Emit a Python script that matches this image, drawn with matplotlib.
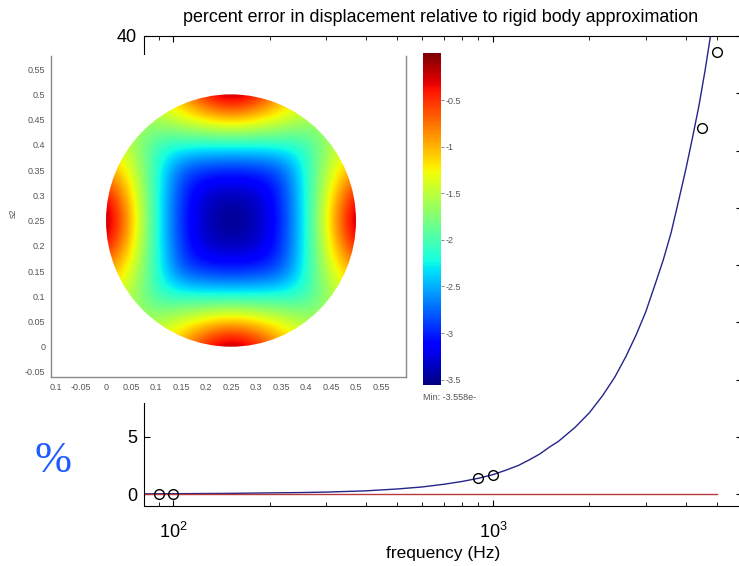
import matplotlib
matplotlib.use("Agg")
import matplotlib.pyplot as plt
import numpy as np
from matplotlib.patches import Circle
from matplotlib.ticker import NullFormatter

plt.rcParams['font.family'] = ['Liberation Sans', 'DejaVu Sans']

# fitted curve
fit_freq = [81, 100, 150, 200, 250, 300, 400, 500, 600, 700, 800, 900, 1000, 1100, 1200,
            1300, 1400, 1500, 1600, 1800, 2000, 2200, 2400, 2600, 2800, 3000, 3200, 3400,
            3600, 3800, 4000, 4200, 4400, 4600, 4800, 5000]
fit_err = [0.02, 0.03, 0.06, 0.1, 0.13, 0.17, 0.28, 0.44, 0.62, 0.85, 1.1, 1.38, 1.7, 2.1, 2.5,
           3.0, 3.5, 4.1, 4.6, 5.8, 7.1, 8.6, 10.2, 12.0, 13.9, 15.9, 18.2, 20.4,
           22.8, 25.6, 28.3, 31.1, 33.9, 37.0, 40.3, 43.5]

# computed points (circles)
pt_freq = [90, 100, 900, 1000, 4500, 5000]
pt_err = [0.0, 0.0, 1.4, 1.7, 32.0, 38.6]

# rigid body reference line
ref_freq = [81, 5000]
ref_err = [0, 0]

# y ticks; labels 10..35 sit under the pasted picture
y_ticks = [0, 5, 10, 15, 20, 25, 30, 35, 40]
y_labels = ['0', '5', '', '', '', '', '', '', '40']

# field on the disk, s1/s2 grid 0..0.5 step 0.05 (rows bottom to top)
s_grid = [0.0, 0.05, 0.1, 0.15, 0.2, 0.25, 0.3, 0.35, 0.4, 0.45, 0.5]
field = [
    [-1.50, -1.40, -1.30, -0.90, -0.30, 0.00, -0.30, -0.90, -1.30, -1.40, -1.50],
    [-1.40, -1.60, -1.57, -1.35, -1.15, -1.00, -1.15, -1.35, -1.57, -1.60, -1.40],
    [-1.30, -1.57, -2.10, -2.15, -2.18, -2.20, -2.18, -2.15, -2.10, -1.57, -1.30],
    [-0.90, -1.35, -2.15, -2.85, -2.97, -3.00, -2.97, -2.85, -2.15, -1.35, -0.90],
    [-0.30, -1.15, -2.18, -2.97, -3.35, -3.40, -3.35, -2.97, -2.18, -1.15, -0.30],
    [0.00, -1.00, -2.20, -3.00, -3.40, -3.56, -3.40, -3.00, -2.20, -1.00, 0.00],
    [-0.30, -1.15, -2.18, -2.97, -3.35, -3.40, -3.35, -2.97, -2.18, -1.15, -0.30],
    [-0.90, -1.35, -2.15, -2.85, -2.97, -3.00, -2.97, -2.85, -2.15, -1.35, -0.90],
    [-1.30, -1.57, -2.10, -2.15, -2.18, -2.20, -2.18, -2.15, -2.10, -1.57, -1.30],
    [-1.40, -1.60, -1.57, -1.35, -1.15, -1.00, -1.15, -1.35, -1.57, -1.60, -1.40],
    [-1.50, -1.40, -1.30, -0.90, -0.30, 0.00, -0.30, -0.90, -1.30, -1.40, -1.50],
]
field_min = -3.558
field_max = 0.0

inset_xticks = [-0.1, -0.05, 0, 0.05, 0.1, 0.15, 0.2, 0.25, 0.3, 0.35, 0.4, 0.45, 0.5, 0.55]
inset_xlabels = ['0.1', '-0.05', '0', '0.05', '0.1', '0.15', '0.2', '0.25', '0.3', '0.35',
                 '0.4', '0.45', '0.5', '0.55']
inset_yticks = [-0.05, 0, 0.05, 0.1, 0.15, 0.2, 0.25, 0.3, 0.35, 0.4, 0.45, 0.5, 0.55]
inset_ylabels = ['-0.05', '0', '0.05', '0.1', '0.15', '0.2', '0.25', '0.3', '0.35',
                 '0.4', '0.45', '0.5', '0.55']
cbar_ticks = [-0.5, -1, -1.5, -2, -2.5, -3, -3.5]

W, H = 739, 566
fig = plt.figure(figsize=(W / 100, H / 100), dpi=100)


def box(x0, y0, x1, y1):
    # pixel box (top-left origin) -> figure fraction rect
    return [x0 / W, 1 - y1 / H, (x1 - x0) / W, (y1 - y0) / H]


# ---- main plot
ax = fig.add_axes(box(144, 36, 742, 505.5))
ax.semilogx(fit_freq, fit_err, color='#24248a', lw=1.0)
ax.plot(ref_freq, ref_err, color='#b83a3a', lw=1.0)
ax.plot(pt_freq, pt_err, 'o', mfc='none', mec='black', ms=7, mew=1.0)
ax.set_xlim(81, 6000)
ax.set_ylim(-1, 40)
ax.set_yticks(y_ticks)
ax.set_yticklabels(y_labels)
ax.xaxis.set_minor_formatter(NullFormatter())
ax.tick_params(which='both', direction='in', top=True, right=True, labelsize=13)
ax.tick_params(which='major', length=4.5)
ax.tick_params(which='minor', length=3)
ax.tick_params(axis='x', pad=12)
ax.tick_params(axis='y', pad=5)
ax.set_xlabel('frequency (Hz)', fontsize=12.5, labelpad=3)
for sp in ax.spines.values():
    sp.set_linewidth(0.8)

fig.text(441 / W, 1 - 17 / H, 'percent error in displacement relative to rigid body approximation',
         ha='center', va='center', fontsize=12.9)
fig.text(53 / W, 1 - 461 / H, '%', ha='center', va='center', fontsize=32,
         color='#1f5cff', family=['Liberation Serif', 'DejaVu Serif'])

# ---- pasted field picture (covers part of the main axes)
cover = fig.add_axes(box(0, 55, 477, 403))
cover.set_facecolor('white')
cover.set_xticks([])
cover.set_yticks([])
for sp in cover.spines.values():
    sp.set_visible(False)

inset = fig.add_axes(box(51, 56, 406, 377))
step = s_grid[1] - s_grid[0]
im = inset.imshow(field, origin='lower', cmap='jet', vmin=field_min, vmax=field_max,
                  interpolation='bicubic',
                  extent=[s_grid[0] - step / 2, s_grid[-1] + step / 2,
                          s_grid[0] - step / 2, s_grid[-1] + step / 2])
disk = Circle((0.25, 0.25), 0.25, transform=inset.transData)
im.set_clip_path(disk)
inset.set_xlim(-0.11, 0.6)
inset.set_ylim(-0.06, 0.576)
inset.set_aspect('auto')
inset.set_xticks(inset_xticks)
inset.set_xticklabels(inset_xlabels)
inset.set_yticks(inset_yticks)
inset.set_yticklabels(inset_ylabels)
inset.tick_params(length=0, labelsize=6.5, labelcolor='#555555', pad=4)
inset.spines['top'].set_visible(False)
for side in ['left', 'right', 'bottom']:
    inset.spines[side].set_color('#8a8a8a')
    inset.spines[side].set_linewidth(1.0)
fig.text(13 / W, 1 - 213 / H, 's2', rotation=90, ha='center', va='center',
         fontsize=6.5, color='#555555')
t = cover.text(231 / W, 1 - 409 / H, 's1', transform=fig.transFigure, ha='center',
               va='center', fontsize=6.5, color='#555555', clip_on=True)
t.set_clip_box(cover.bbox)

cax = fig.add_axes(box(423, 53.5, 441, 385))
cb = fig.colorbar(im, cax=cax)
cb.set_ticks(cbar_ticks)
cb.set_ticklabels([str(v) for v in cbar_ticks])
cb.outline.set_visible(False)
cax.tick_params(length=2, width=0.6, color='#777777', labelsize=6.5,
                labelcolor='#555555', pad=1)
m = cover.text(423 / W, 1 - 398 / H, 'Min: -3.558e-1', transform=fig.transFigure,
               ha='left', va='center', fontsize=6.5, color='#555555', clip_on=True)
m.set_clip_box(cover.bbox)

fig.savefig('out.png', dpi=100)
